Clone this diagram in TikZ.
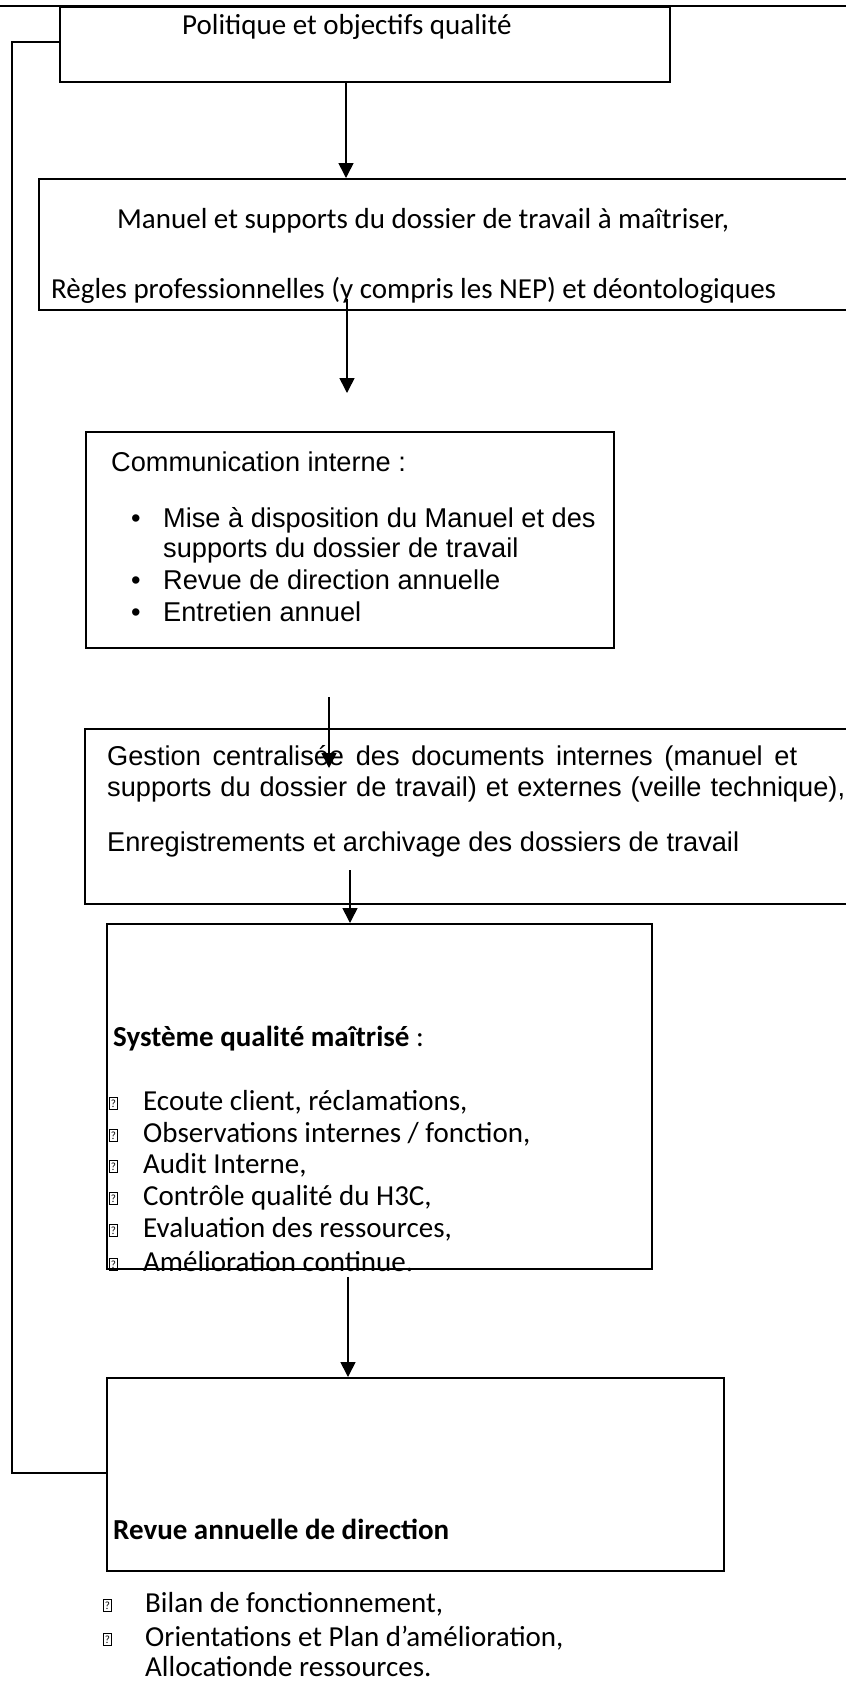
\documentclass[tikz,border=0pt]{standalone}
\usepackage{fontspec}
\setmainfont{Carlito}
\newfontfamily\arialf{Liberation Sans}
\usetikzlibrary{arrows.meta}
\newcommand\qbox{{\setlength\fboxsep{0.9pt}\setlength\fboxrule{0.8pt}\raisebox{2.6pt}{\fbox{\fontsize{11}{11}\selectfont\rule[-1pt]{0pt}{10pt}?}}}}
\tikzset{
  box/.style={draw, line width=1.8pt, inner sep=0pt, anchor=north west},
  arr/.style={line width=1.6pt, -{Triangle[length=15pt,width=15pt]}},
  ln/.style={line width=1.8pt},
  cal/.style={font=\fontsize{29}{35}\selectfont, inner sep=0pt, anchor=base west},
  calb/.style={font=\fontsize{29}{35}\selectfont\bfseries, inner sep=0pt, anchor=base west},
  ar/.style={font=\arialf\fontsize{27.2}{31}\selectfont, inner sep=0pt, anchor=base west},
}
\begin{document}
\begin{tikzpicture}[x=1pt,y=-1pt]
\clip (0,0) rectangle (846,1682);
\fill[white] (0,0) rectangle (846,1682);
% boxes
\node[box, minimum width=610pt, minimum height=75pt]  (b1) at (59,6) {};
\node[box, minimum width=832pt, minimum height=131pt] (b2) at (38,178) {};
\node[box, minimum width=528pt, minimum height=216pt] (b3) at (85,431) {};
\node[box, minimum width=786pt, minimum height=175pt] (b4) at (84,728) {};
\node[box, minimum width=545pt, minimum height=345pt] (b5) at (106,923) {};
\node[box, minimum width=617pt, minimum height=193pt] (b6) at (106,1377) {};
% top line
\coordinate (tl) at (0,6);
\coordinate (tr) at (846,6);
\draw[ln] (tl) -- (tr);
% texts
\node[cal] (t1) at (182,34) {Politique et objectifs qualité};
\node[cal] (t2a) at (117,228) {Manuel et supports du dossier de travail à maîtriser,};
\node[cal] (t2b) at (51,298) {Règles professionnelles (y compris les NEP) et déontologiques};
\node[ar] (t3) at (111,471) {Communication interne :};
\node[ar] (t3p1) at (131,527) {\textbullet};
\node[ar] (t3a) at (163,527) {Mise à disposition du Manuel et des};
\node[ar] (t3b) at (163,557) {supports du dossier de travail};
\node[ar] (t3p2) at (131,589) {\textbullet};
\node[ar] (t3c) at (163,589) {Revue de direction annuelle};
\node[ar] (t3p3) at (131,621) {\textbullet};
\node[ar] (t3d) at (163,621) {Entretien annuel};
\node[ar] (t4a) at (107,765) {\makebox[690pt][s]{Gestion centralisée des documents internes (manuel et}};
\node[ar] (t4b) at (107,796) {\makebox[738pt][s]{supports du dossier de travail) et externes (veille technique),}};
\node[ar] (t4c) at (107,851) {Enregistrements et archivage des dossiers de travail};
\node[cal] (t5) at (113,1046) {\textbf{Système qualité maîtrisé} :};
\foreach \n/\yy/\tx in {1/1110/{Ecoute client, réclamations,},2/1142/{Observations internes / fonction,},3/1173/{Audit Interne,},4/1205/{Contrôle qualité du H3C,},5/1237/{Evaluation des ressources,},6/1271/{Amélioration continue.}}{
  \node[cal] (m5\n) at (109,\yy) {\qbox};
  \node[cal] (i5\n) at (143,\yy) {\tx};
}
\node[calb] (t6) at (113,1539) {Revue annuelle de direction};
\node[cal] (m61) at (103,1612) {\qbox};
\node[cal] (i61) at (145,1612) {Bilan de fonctionnement,};
\node[cal] (m62) at (103,1646) {\qbox};
\node[cal] (i62) at (145,1646) {Orientations et Plan d’amélioration,};
\node[cal] (i63) at (145,1676) {Allocationde ressources.};
% arrow coordinates
\coordinate (x1) at (346,0);
\coordinate (a2s) at (347,299);
\coordinate (a2e) at (347,393);
\coordinate (a3s) at (329,697);
\coordinate (a3e) at (329,768);
\coordinate (a4s) at (350,870);
\coordinate (x4) at (350,0);
\coordinate (a5s) at (348,1277);
\coordinate (x5) at (348,0);
\draw[arr] (b1.south -| x1) -- (b2.north -| x1);
\draw[arr] (a2s) -- (a2e);
\draw[arr] (a3s) -- (a3e);
\draw[arr] (a4s) -- (b5.north -| x4);
\draw[arr] (a5s) -- (b6.north -| x5);
% feedback loop
\coordinate (fb1) at (12,1473);
\coordinate (fb2) at (12,42);
\draw[ln] (b6.west |- fb1) -- (fb1) -- (fb2) -- (b1.west |- fb2);
\end{tikzpicture}
\end{document}
